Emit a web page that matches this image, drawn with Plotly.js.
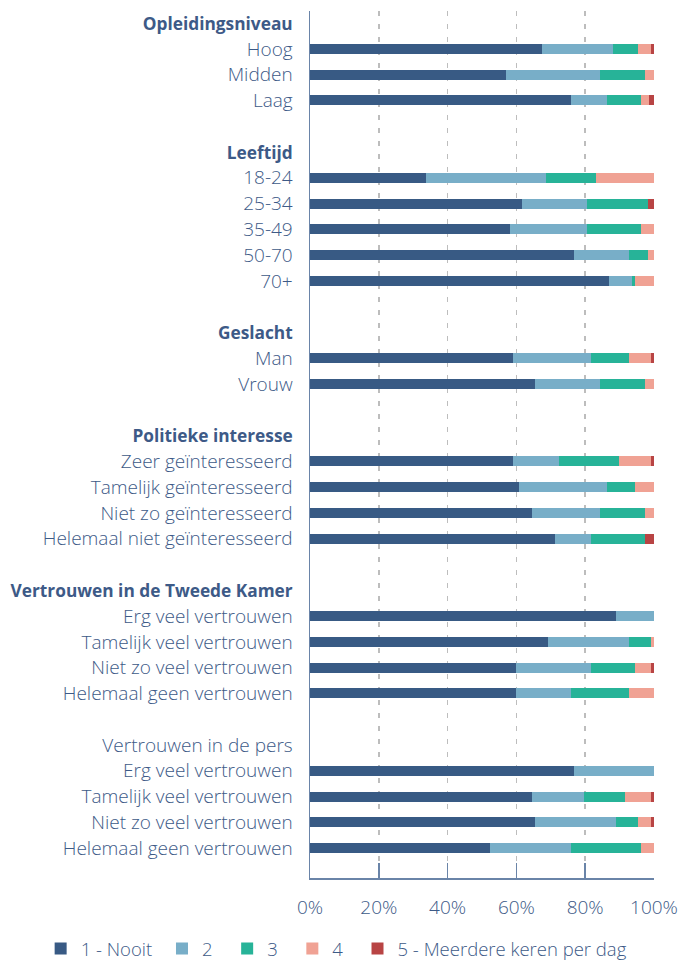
<!DOCTYPE html>
<html>
<head>
<meta charset="utf-8">
<script src="https://cdn.plot.ly/plotly-3.0.1.min.js"></script>
<style>
html,body{margin:0;padding:0;background:#fff;}
#chart{width:678px;height:962px;}
</style>
</head>
<body>
<div id="chart"></div>
<script>
function head(t){ return '<b><span style="font-size:17.3px">' + t + '</span></b>'; }

var labels = [head('Opleidingsniveau'),'Hoog','Midden','Laag','',
  head('Leeftijd'),'18-24','25-34','35-49','50-70','70+','',
  head('Geslacht'),'Man','Vrouw','',
  head('Politieke interesse'),'Zeer geïnteresseerd','Tamelijk geïnteresseerd','Niet zo geïnteresseerd','Helemaal niet geïnteresseerd','',
  head('Vertrouwen in de Tweede Kamer'),'Erg veel vertrouwen','Tamelijk veel vertrouwen','Niet zo veel vertrouwen','Helemaal geen vertrouwen','',
  'Vertrouwen in de pers','Erg veel vertrouwen','Tamelijk veel vertrouwen','Niet zo veel vertrouwen','Helemaal geen vertrouwen'];

var seriesNames = ['1 - Nooit','2','3','4','5 - Meerdere keren per dag'];
var seriesColors = ['#385a84','#78aec8','#27b398','#f0a294','#b84444'];

var nooit = [null,67.4,57.1,75.9,null,null,33.7,61.7,58.0,76.7,87.0,null,null,59.0,65.5,null,null,59.0,60.8,64.5,71.2,null,null,89.0,69.2,59.9,59.9,null,null,76.7,64.5,65.5,52.3];
var twee  = [null,20.6,27.2,10.3,null,null,34.8,18.8,22.5,16.0,6.7,null,null,22.6,18.8,null,null,13.3,25.4,19.8,10.4,null,null,11.0,23.5,21.7,16.0,null,null,23.3,15.1,23.5,23.6];
var drie  = [null,7.4,13.1,10.1,null,null,14.7,17.8,15.8,5.6,0.8,null,null,11.1,13.1,null,null,17.5,8.3,13.1,15.8,null,null,0,6.5,12.9,16.8,null,null,0,12.0,6.4,20.4];
var vier  = [null,3.8,2.6,2.1,null,null,16.8,0,3.7,1.7,5.5,null,null,6.5,2.6,null,null,9.4,5.5,2.6,0,null,null,0,0.8,4.7,7.3,null,null,0,7.6,3.8,3.7];
var vijf  = [null,0.8,0,1.6,null,null,0,1.7,0,0,0,null,null,0.8,0,null,null,0.8,0,0,2.6,null,null,0,0,0.8,0,null,null,0,0.8,0.8,0];

var xTicks = [0,20,40,60,80,100];

var rowIdx = labels.map(function(_, i){ return i; });
var allSeries = [nooit, twee, drie, vier, vijf];

var textColor = '#3d5a87';
var axisColor = '#6a84a8';
var font = '"Open Sans", sans-serif';
var pads = ['\u00a0', '\u00a0\u00a0', '\u00a0\u00a0', '\u00a0\u00a0', ''];

var traces = allSeries.map(function(vals, k){
  return {
    type: 'bar', orientation: 'h',
    x: vals, y: rowIdx,
    name: seriesNames[k] + pads[k],
    width: 0.39,
    marker: {color: seriesColors[k], line: {width: 0}},
    hoverinfo: 'x+name'
  };
});

var layout = {
  width: 678, height: 962,
  margin: {l: 310, r: 24, t: 11, b: 84, pad: 0, autoexpand: false},
  barmode: 'stack',
  paper_bgcolor: '#fff', plot_bgcolor: '#fff',
  font: {family: font, size: 19, color: textColor, weight: 300},
  showlegend: true,
  legend: {
    orientation: 'h',
    x: -0.783, xanchor: 'left',
    y: -0.082, yanchor: 'middle',
    font: {family: font, size: 18.5, color: textColor, weight: 300},
    traceorder: 'normal'
  },
  xaxis: {
    range: [0, 100],
    tickvals: xTicks,
    ticktext: xTicks.map(function(v){ return v + '%'; }),
    showgrid: true, gridcolor: '#bdbdbd', gridwidth: 1.5, griddash: '5px,8px',
    zeroline: false,
    showline: true, linecolor: axisColor, linewidth: 1.5,
    ticks: 'inside', ticklen: 15, tickwidth: 1.5, tickcolor: axisColor,
    ticklabelstandoff: 12,
    tickfont: {family: font, size: 19, color: textColor, weight: 300},
    fixedrange: true
  },
  yaxis: {
    range: [33.16, -0.47],
    tickvals: rowIdx,
    ticktext: labels,
    showgrid: false, zeroline: false,
    showline: true, linecolor: axisColor, linewidth: 1.5,
    ticks: '', ticklabelstandoff: 12,
    tickfont: {family: font, size: 19, color: textColor, weight: 300},
    fixedrange: true
  }
};

Plotly.newPlot('chart', traces, layout, {displayModeBar: false, staticPlot: true});
</script>
</body>
</html>
